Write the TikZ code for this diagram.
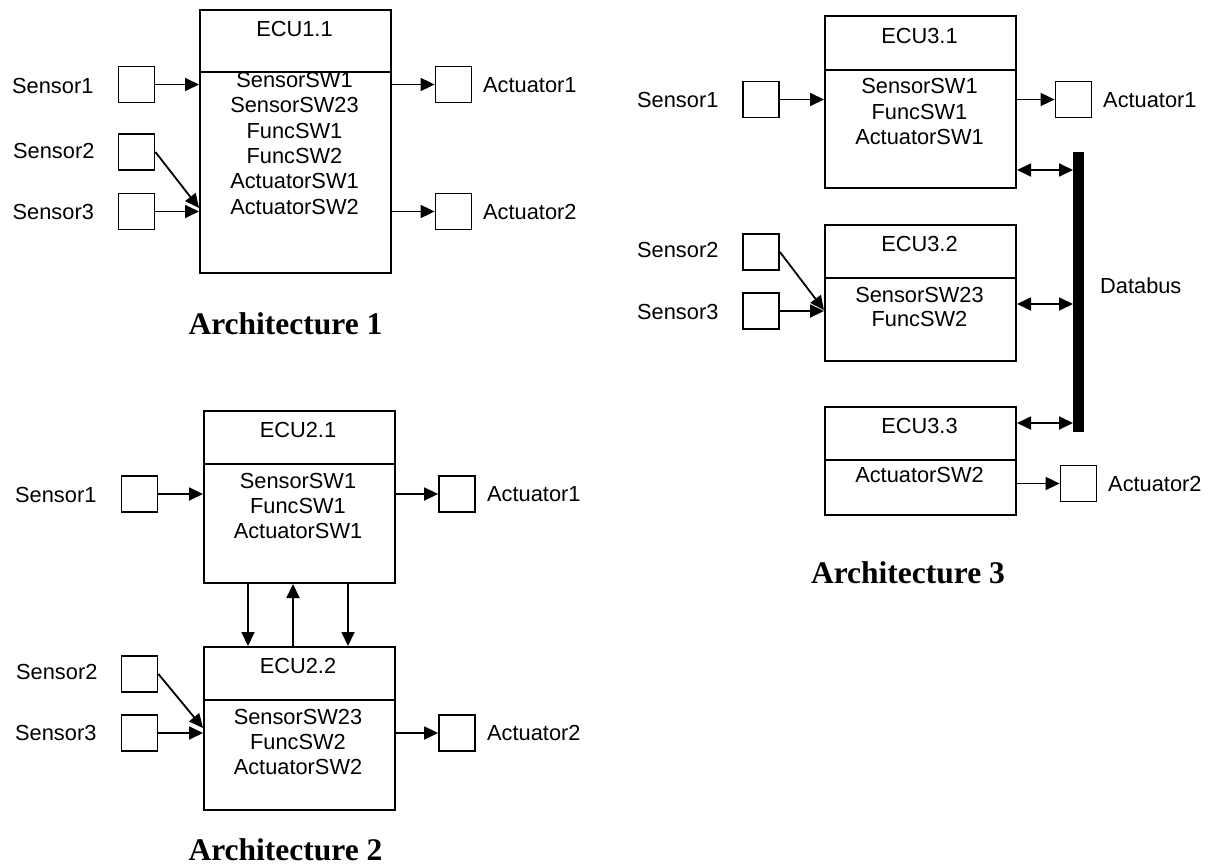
\documentclass[tikz,border=0pt]{standalone}
\usepackage{fontspec}
\setmainfont{Liberation Sans}
\newfontfamily\titlefont{Liberation Serif}
\usetikzlibrary{arrows.meta,calc}
\begin{document}
\begin{tikzpicture}[x=1pt,y=-1pt,
  ecu/.style={draw, line width=2pt, anchor=north west, inner sep=0pt, minimum width=191pt},
  sq/.style={draw, line width=1.8pt, minimum width=36pt, minimum height=36pt, inner sep=0pt},
  txt/.style={font=\fontsize{21.8}{25}\selectfont, inner sep=0pt},
  lbl/.style={txt, anchor=west},
  arr/.style={line width=1.8pt, -{Triangle[length=14pt,width=13pt]}},
  barr/.style={line width=1.8pt, {Triangle[length=14pt,width=13pt]}-{Triangle[length=14pt,width=13pt]}},
  archtitle/.style={font=\titlefont\bfseries\fontsize{31.5}{34}\selectfont, inner sep=0pt},
  divider/.style={line width=1.8pt}]

\useasboundingbox (0,0) rectangle (1210,867);

% ================= Architecture 1 =================
\node[ecu, minimum height=263pt] (e11) at (199,9) {};
\coordinate (d11) at (0,72);
\draw[divider] (e11.west |- d11) -- (e11.east |- d11);
\node[txt] (e11t) at (294.5,29) {ECU1.1};
\node[txt] (e11a) at (294.5,80) {SensorSW1};
\node[txt] (e11b) at (294.5,105) {SensorSW23};
\node[txt] (e11c) at (294.5,130.5) {FuncSW1};
\node[txt] (e11d) at (294.5,155.5) {FuncSW2};
\node[txt] (e11e) at (294.5,181) {ActuatorSW1};
\node[txt] (e11f) at (294.5,206.5) {ActuatorSW2};

\node[sq] (a1s1) at (136.5,84.5) {};
\node[sq] (a1s2) at (136.5,152) {};
\node[sq] (a1s3) at (136.5,211.5) {};
\node[lbl] (a1l1) at (12,85.5) {Sensor1};
\node[lbl] (a1l2) at (13,150.5) {Sensor2};
\node[lbl] (a1l3) at (12.5,212) {Sensor3};
\coordinate (a1j) at (199,208);
\draw[arr] (a1s1.east) -- (a1s1.east -| e11.west);
\draw[arr] (a1s2.east) -- (a1j);
\draw[arr] (a1s3.east) -- (a1s3.east -| e11.west);

\node[sq] (a1a1) at (453.5,84.5) {};
\node[sq] (a1a2) at (453.5,211.5) {};
\node[lbl] (a1m1) at (483,85) {Actuator1};
\node[lbl] (a1m2) at (483,212) {Actuator2};
\draw[arr] (e11.east |- a1a1.west) -- (a1a1.west);
\draw[arr] (e11.east |- a1a2.west) -- (a1a2.west);

\node[archtitle] (t1) at (285.5,324) {Architecture 1};

% ================= Architecture 2 =================
\node[ecu, minimum height=172pt] (e21) at (203,410) {};
\node[ecu, minimum height=163pt] (e22) at (203,646) {};
\coordinate (d21) at (0,464);
\coordinate (d22) at (0,700);
\draw[divider] (e21.west |- d21) -- (e21.east |- d21);
\draw[divider] (e22.west |- d22) -- (e22.east |- d22);
\node[txt] (e21t) at (298,430) {ECU2.1};
\node[txt] (e21a) at (298,481) {SensorSW1};
\node[txt] (e21b) at (298,506) {FuncSW1};
\node[txt] (e21c) at (298,531) {ActuatorSW1};
\node[txt] (e22t) at (298,665.5) {ECU2.2};
\node[txt] (e22a) at (298,717) {SensorSW23};
\node[txt] (e22b) at (298,741.5) {FuncSW2};
\node[txt] (e22c) at (298,766.5) {ActuatorSW2};

\coordinate (v1) at (248,0);
\coordinate (v2) at (293,0);
\coordinate (v3) at (348,0);
\draw[arr] (e21.south -| v1) -- (e22.north -| v1);
\draw[arr] (e22.north -| v2) -- (e21.south -| v2);
\draw[arr] (e21.south -| v3) -- (e22.north -| v3);

\node[sq] (a2s1) at (139.5,494) {};
\node[sq] (a2s2) at (139.5,674) {};
\node[sq] (a2s3) at (139.5,733) {};
\node[lbl] (a2l1) at (15,495) {Sensor1};
\node[lbl] (a2l2) at (16,671.5) {Sensor2};
\node[lbl] (a2l3) at (15,733) {Sensor3};
\coordinate (a2j) at (203,728);
\draw[arr] (a2s1.east) -- (a2s1.east -| e21.west);
\draw[arr] (a2s2.east) -- (a2j);
\draw[arr] (a2s3.east) -- (a2s3.east -| e22.west);

\node[sq] (a2a1) at (457,494) {};
\node[sq] (a2a2) at (457,733) {};
\node[lbl] (a2m1) at (487,494) {Actuator1};
\node[lbl] (a2m2) at (487,733) {Actuator2};
\draw[arr] (e21.east |- a2a1.west) -- (a2a1.west);
\draw[arr] (e22.east |- a2a2.west) -- (a2a2.west);

\node[archtitle] (t2) at (285.5,850) {Architecture 2};

% ================= Architecture 3 =================
\node[ecu, minimum height=172pt] (e31) at (824,15) {};
\node[ecu, minimum height=136pt] (e32) at (824,224) {};
\node[ecu, minimum height=108pt] (e33) at (824,406) {};
\coordinate (d31) at (0,70);
\coordinate (d32) at (0,278);
\coordinate (d33) at (0,460);
\draw[divider] (e31.west |- d31) -- (e31.east |- d31);
\draw[divider] (e32.west |- d32) -- (e32.east |- d32);
\draw[divider] (e33.west |- d33) -- (e33.east |- d33);
\node[txt] (e31t) at (919.5,35.5) {ECU3.1};
\node[txt] (e31a) at (919.5,86) {SensorSW1};
\node[txt] (e31b) at (919.5,111.5) {FuncSW1};
\node[txt] (e31c) at (919.5,136.5) {ActuatorSW1};
\node[txt] (e32t) at (919.5,244) {ECU3.2};
\node[txt] (e32a) at (919.5,294.5) {SensorSW23};
\node[txt] (e32b) at (919.5,319) {FuncSW2};
\node[txt] (e33t) at (919.5,426) {ECU3.3};
\node[txt] (e33a) at (919.5,475) {ActuatorSW2};

\node[fill=black, draw=none, inner sep=0pt, minimum width=11pt, minimum height=280pt, anchor=north west] (bus) at (1073,152) {};
\node[lbl] (busl) at (1100,286) {Databus};
\coordinate (b1) at (0,170);
\coordinate (b2) at (0,304);
\coordinate (b3) at (0,423);
\draw[barr] (e31.east |- b1) -- (bus.west |- b1);
\draw[barr] (e32.east |- b2) -- (bus.west |- b2);
\draw[barr] (e33.east |- b3) -- (bus.west |- b3);

\node[sq] (a3s1) at (761,99.5) {};
\node[sq] (a3s2) at (761,252) {};
\node[sq] (a3s3) at (761,311) {};
\node[lbl] (a3l1) at (637,100) {Sensor1};
\node[lbl] (a3l2) at (637,249.5) {Sensor2};
\node[lbl] (a3l3) at (637,312) {Sensor3};
\coordinate (a3j) at (824,310);
\draw[arr] (a3s1.east) -- (a3s1.east -| e31.west);
\draw[arr] (a3s2.east) -- (a3j);
\draw[arr] (a3s3.east) -- (a3s3.east -| e32.west);

\node[sq] (a3a1) at (1073.5,99.5) {};
\node[sq] (a3a2) at (1078.5,483.5) {};
\node[lbl] (a3m1) at (1103,100) {Actuator1};
\node[lbl] (a3m2) at (1108,483.5) {Actuator2};
\draw[arr] (e31.east |- a3a1.west) -- (a3a1.west);
\draw[arr] (e33.east |- a3a2.west) -- (a3a2.west);

\node[archtitle] (t3) at (908,573) {Architecture 3};
\end{tikzpicture}
\end{document}
